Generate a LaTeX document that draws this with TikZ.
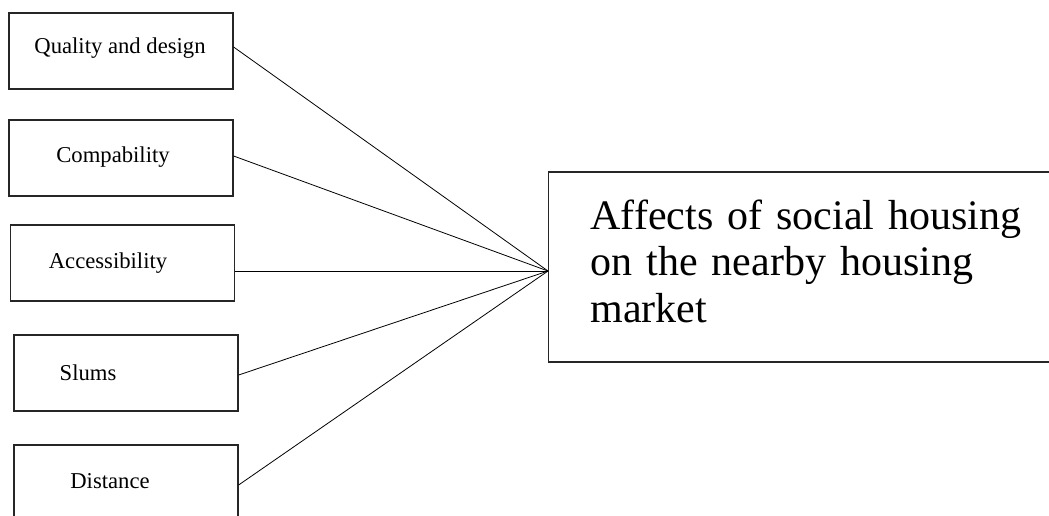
\documentclass[tikz,border=0pt]{standalone}
\usepackage{fontspec}
\setmainfont{Liberation Serif}
\usetikzlibrary{positioning}

\begin{document}
\begin{tikzpicture}[x=0.75pt, y=-0.75pt,
  factor/.style={rectangle, draw=black!85, line width=0.9pt,
                 minimum width=168pt, minimum height=57pt},
  flbl/.style={font=\fontsize{17}{20}\selectfont, inner sep=0pt},
  market/.style={rectangle, draw=black!85, line width=0.9pt, anchor=west,
                 minimum height=142.5pt, inner xsep=31.5pt, text width=330pt,
                 align=left, font=\fontsize{31.5}{35}\selectfont},
  link/.style={line width=0.6pt},
]
% page size of the reference; the right box and the last factor box run
% past the edge, so everything is clipped to it
\useasboundingbox (0,0) rectangle (1049,515);
\clip (0,0) rectangle (1049,515);

\node[market] (mkt) at (548,267)
  {Affects of social housing\\on the nearby housing\\market\rule[-9pt]{0pt}{9pt}};
\coordinate (hub) at (548,271);

% factor boxes: index / box centre / label position / line start height / label
\foreach \i/\cx/\cy/\tx/\ty/\ly/\name in {
  1/121/51/120/48/47/Quality and design,
  2/121/158/113/157/156/Compability,
  3/122.5/263/108/263/271/Accessibility,
  4/126/373/88/373/375/Slums,
  5/126/483/110/481/485/Distance
} {
  \node[factor] (f\i) at (\cx,\cy) {};
  \node[flbl] (t\i) at (\tx,\ty) {\name};
  \coordinate (e\i) at (f\i.east |- 0,\ly);
  \draw[link] (e\i) -- (hub);
}
\end{tikzpicture}
\end{document}
